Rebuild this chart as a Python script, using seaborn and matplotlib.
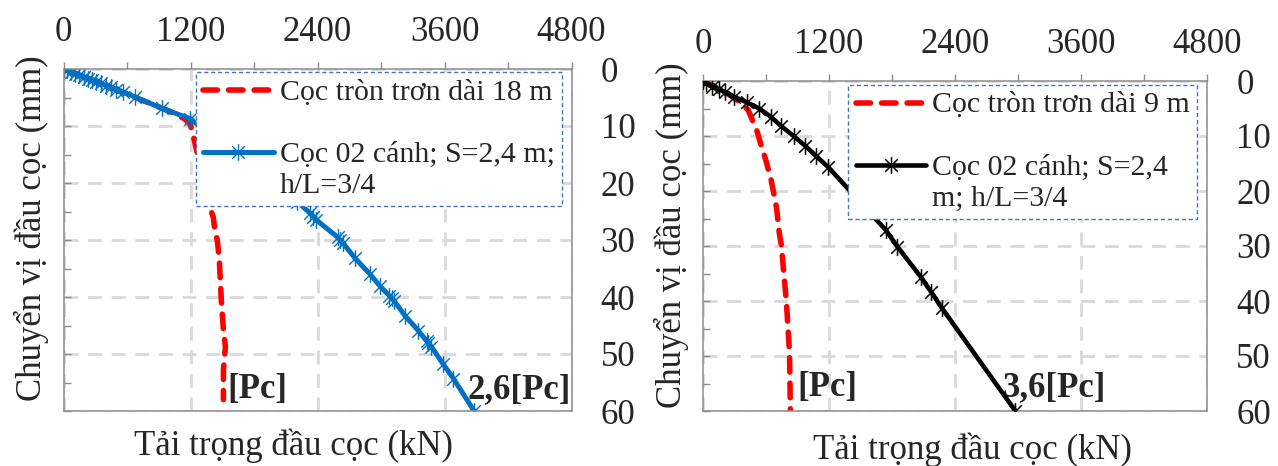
import matplotlib
matplotlib.use("Agg")
import matplotlib.pyplot as plt
from matplotlib.path import Path
from matplotlib.ticker import MultipleLocator
import pandas as pd
import seaborn as sns

# ---- Left chart: smooth round pile 18 m vs. two-wing pile ----
load_round18 = [0, 200, 400, 600, 800, 1000, 1150, 1200, 1230, 1280, 1330, 1375,
                1414, 1433, 1453, 1472, 1491, 1511, 1530, 1511, 1511]
disp_round18 = [0, 1.4, 2.9, 4.4, 5.9, 7.4, 8.8, 9.8, 12, 16, 20, 23.9,
                25.9, 28.7, 30, 33.5, 40.5, 45.8, 48.7, 52.8, 58]

load_wing18 = [0, 35, 70, 110, 150, 190, 230, 270, 310, 350, 400, 450, 500, 560,
               676, 928, 1195, 1600, 2000, 2211, 2330, 2361, 2390, 2590, 2613,
               2640, 2755, 2897, 2991, 3080, 3101, 3125, 3227, 3353, 3430, 3448,
               3475, 3589, 3684, 3880]
disp_wing18 = [0, 0.25, 0.5, 0.8, 1.1, 1.4, 1.7, 1.9, 2.2, 2.5, 2.9, 3.2, 3.6, 4.0,
               4.9, 6.9, 8.7, 14.5, 20.3, 23.3, 25.3, 25.9, 26.5, 29.5, 30.0,
               30.5, 33.2, 36.0, 38.1, 39.8, 40.2, 40.7, 43.3, 45.9, 47.7, 48.1,
               48.7, 51.8, 54.3, 60]

# ---- Right chart: smooth round pile 9 m vs. two-wing pile ----
load_round9 = [0, 120, 225, 352, 431, 463, 511, 543, 600, 649, 700, 727, 746,
               770, 793, 810, 824, 832]
disp_round9 = [0, 1.1, 2.2, 3.8, 5.3, 6.8, 8.9, 11, 14.5, 18, 23, 27.7, 29.8,
               35, 39.8, 45, 49.5, 59.8]

load_wing9 = [0, 30, 90, 150, 210, 300, 420, 535, 645, 745, 862, 975, 1075,
              1195, 1741, 1851, 2073, 2171, 2276, 2975]
disp_wing9 = [0, 0.4, 1.0, 1.5, 2.0, 2.9, 3.9, 5.0, 6.5, 8.2, 10.0, 11.8, 13.6,
              15.7, 27.1, 30.1, 35.6, 38.3, 41.3, 60]

x_ticks = [0, 1200, 2400, 3600, 4800]
y_ticks = [0, 10, 20, 30, 40, 50, 60]

label_round18 = "Cọc tròn trơn dài 18 m"
label_wing18 = "Cọc 02 cánh; S=2,4 m;\nh/L=3/4"
label_round9 = "Cọc tròn trơn dài 9 m"
label_wing9 = "Cọc 02 cánh; S=2,4\nm; h/L=3/4"
x_title = "Tải trọng đầu cọc (kN)"
y_title = "Chuyển vị đầu cọc (mm)"

sns.set_style("white")
plt.rcParams["font.family"] = ["Liberation Serif", "DejaVu Serif"]

RED = "#FF0000"
BLUE = "#0070C0"
SPINE = "#8C8C8C"
GRID = "#D9D9D9"

# star marker: an "x" crossed by a vertical stroke
_d = 0.75
STAR = Path([(0, -1), (0, 1), (-_d, -_d), (_d, _d), (-_d, _d), (_d, -_d)],
            [Path.MOVETO, Path.LINETO, Path.MOVETO, Path.LINETO,
             Path.MOVETO, Path.LINETO])
RED_DASH = (0, (2.6, 2.0))

W, H = 1278, 466
fig = plt.figure(figsize=(W / 100, H / 100), dpi=100)
ax1 = fig.add_axes([63.5 / W, 1 - 411 / H, 508 / W, 342 / H])
ax2 = fig.add_axes([703 / W, 1 - 411 / H, 504 / W, 330 / H])


def style_axes(ax):
    ax.set_xlim(0, 4800)
    ax.set_ylim(60, 0)
    ax.set_xticks(x_ticks)
    ax.set_yticks(y_ticks)
    ax.xaxis.set_minor_locator(MultipleLocator(600))
    ax.yaxis.set_minor_locator(MultipleLocator(5))
    ax.tick_params(axis="x", which="both", top=True, bottom=False,
                   labeltop=True, labelbottom=False, direction="out",
                   length=5, width=1, color=SPINE, pad=9.5, labelsize=25)
    ax.tick_params(axis="y", which="both", left=True, right=False,
                   labelleft=False, labelright=True, direction="in",
                   length=5, width=1, color=SPINE, pad=21, labelsize=25)
    for lab in ax.get_yticklabels():
        lab.set_horizontalalignment("left")
    ax.set_axisbelow(True)
    ax.grid(True, which="major", color=GRID, linestyle=(0, (5, 3.5)),
            linewidth=2.0)
    for s in ax.spines.values():
        s.set_color(SPINE)
        s.set_linewidth(1.1)
    ax.set_xlabel("")
    ax.set_ylabel("")


def draw_legend(ax, anchor):
    handles, labels = ax.get_legend_handles_labels()
    leg = ax.legend(handles, labels, loc="upper right", bbox_to_anchor=anchor,
                    fontsize=21.5, frameon=True, fancybox=False,
                    edgecolor="#4472C4", framealpha=1, handlelength=2.35,
                    handletextpad=0.2, labelspacing=1.2, borderpad=0.25,
                    borderaxespad=0)
    fr = leg.get_frame()
    fr.set_linestyle((0, (3, 2)))
    fr.set_linewidth(1.0)
    for t in leg.get_texts():
        t.set_linespacing(1.25)
    # keep each handle level with the first line of its label
    for column in leg._legend_handle_box.get_children():
        for item in column.get_children():
            item.align = "top"
    return leg


# Left chart
df_r18 = pd.DataFrame({"load": load_round18, "disp": disp_round18})
df_w18 = pd.DataFrame({"load": load_wing18, "disp": disp_wing18})
sns.lineplot(data=df_r18, x="load", y="disp", sort=False, estimator=None,
             ax=ax1, color=RED, linewidth=4.0, label=label_round18,
             dashes=False, linestyle=RED_DASH, dash_capstyle="round")
sns.lineplot(data=df_w18, x="load", y="disp", sort=False, estimator=None,
             ax=ax1, color=BLUE, linewidth=3.6, label=label_wing18,
             marker=STAR, markersize=12, markeredgewidth=1.0,
             markeredgecolor=BLUE, markerfacecolor="none")
style_axes(ax1)
draw_legend(ax1, (0.981, 0.991))
ax1.text(1545, 56.3, "[Pc]", fontsize=25, fontweight="bold", va="center",
         ha="left")
ax1.text(4790, 56.3, "2,6[Pc]", fontsize=25, fontweight="bold", va="center",
         ha="right")

# Right chart
df_r9 = pd.DataFrame({"load": load_round9, "disp": disp_round9})
df_w9 = pd.DataFrame({"load": load_wing9, "disp": disp_wing9})
sns.lineplot(data=df_r9, x="load", y="disp", sort=False, estimator=None,
             ax=ax2, color=RED, linewidth=4.0, label=label_round9,
             dashes=False, linestyle=RED_DASH, dash_capstyle="round")
sns.lineplot(data=df_w9, x="load", y="disp", sort=False, estimator=None,
             ax=ax2, color="black", linewidth=3.3, label=label_wing9,
             marker=STAR, markersize=12, markeredgewidth=1.1,
             markeredgecolor="black", markerfacecolor="none", zorder=3)
style_axes(ax2)
draw_legend(ax2, (0.98, 0.988))
ax2.text(895, 55.8, "[Pc]", fontsize=25, fontweight="bold", va="center",
         ha="left", zorder=2)
ax2.text(2856, 55.8, "3,6[Pc]", fontsize=25, fontweight="bold", va="center",
         ha="left", zorder=2)

# Axis titles placed below the plots and at their left sides
fig.text(293 / W, 1 - 446 / H, x_title, fontsize=25, ha="center", va="center")
fig.text(972 / W, 1 - 450 / H, x_title, fontsize=25, ha="center", va="center")
fig.text(31 / W, 1 - 228 / H, y_title, fontsize=25, rotation=90,
         ha="center", va="center")
fig.text(671 / W, 1 - 235 / H, y_title, fontsize=25, rotation=90,
         ha="center", va="center")

fig.savefig("out.png", dpi=100, facecolor="white")
